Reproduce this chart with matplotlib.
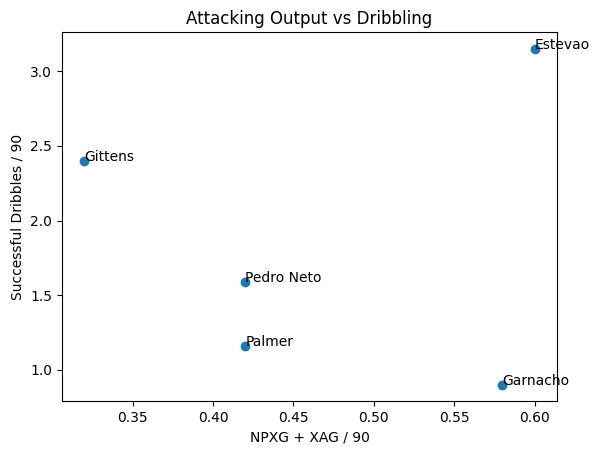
import matplotlib
matplotlib.use("Agg")
import matplotlib.pyplot as plt

players = ["Estevao", "Gittens", "Pedro Neto", "Palmer", "Garnacho"]
npxg_xag = [0.60, 0.32, 0.42, 0.42, 0.58]
dribbles = [3.15, 2.40, 1.59, 1.16, 0.90]

fig, ax = plt.subplots(figsize=(5.99, 4.55), dpi=100)
fig.subplots_adjust(left=0.1035, right=0.930, top=0.929, bottom=0.118)

ax.scatter(npxg_xag, dribbles)
for name, x, y in zip(players, npxg_xag, dribbles):
    ax.text(x, y, name)

ax.set_xlabel("NPXG + XAG / 90")
ax.set_ylabel("Successful Dribbles / 90")
ax.set_title("Attacking Output vs Dribbling")

fig.savefig("out.png", dpi=100)
